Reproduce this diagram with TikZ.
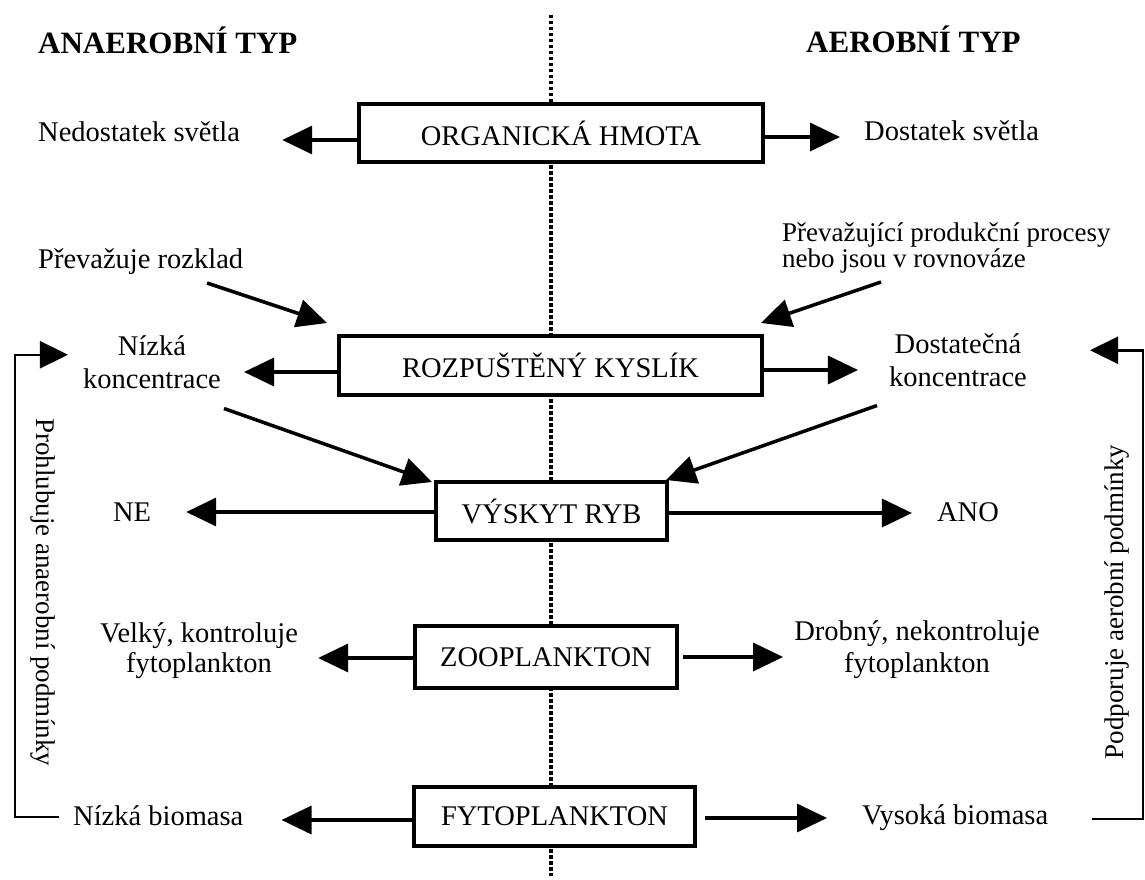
\documentclass[tikz,border=0pt]{standalone}
\usepackage{fontspec}
\setmainfont{Liberation Serif}
\usetikzlibrary{arrows.meta}
\begin{document}
\begin{tikzpicture}[x=1pt,y=-1pt]
\tikzset{
 box/.style={draw, line width=4pt, fill=white, inner sep=0pt, font=\fontsize{28.5}{31}\selectfont},
 tx/.style={inner sep=0pt, font=\fontsize{28.5}{31}\selectfont},
 hd/.style={inner sep=0pt, font=\bfseries\fontsize{31}{34}\selectfont},
 arr/.style={line width=3.5pt, -{Triangle[length=30pt,width=28pt]}},
 fb/.style={line width=2.5pt, -{Triangle[length=28pt,width=27pt]}},
 dotl/.style={line width=3.2pt, dash pattern=on 3.5pt off 2.5pt},
}
\useasboundingbox (0,0) rectangle (1145,880);
\fill[white] (0,0) rectangle (1145,880);

% dotted divider
\coordinate (dtop) at (551,15);
\coordinate (dbot) at (551,876);
\draw[dotl] (dtop) -- (dbot);

% headings
\node[hd, anchor=base west] (anTyp) at (38,54) {ANAEROBNÍ TYP};
\node[hd, anchor=base west] (aeTyp) at (806,53) {AEROBNÍ TYP};

% boxes
\node[box, minimum width=404pt, minimum height=58pt] (org) at (561,133) {ORGANICKÁ HMOTA};
\node[box, minimum width=423pt, minimum height=59pt] (rozp) at (550.5,365.5) {ROZPUŠTĚNÝ KYSLÍK};
\node[box, minimum width=231pt, minimum height=58pt] (vyskyt) at (551.5,511) {VÝSKYT RYB};
\node[box, minimum width=262pt, minimum height=62pt] (zoo) at (546,657) {ZOOPLANKTON};
\node[box, minimum width=281pt, minimum height=59pt] (fyto) at (554.5,816) {FYTOPLANKTON};

% text nodes
\node[tx, anchor=base west] (ned) at (38,142) {Nedostatek světla};
\node[tx, anchor=base west] (dos) at (864,140) {Dostatek světla};
\node[tx, anchor=base west] (rozklad) at (38,268) {Převažuje rozklad};
\node[tx, anchor=north west, align=left, font=\fontsize{27}{23}\selectfont] (prev) at (782,223) {Převažující produkční procesy\\nebo jsou v rovnováze};
\node[tx, anchor=north, align=center, font=\fontsize{28.5}{33}\selectfont] (nk) at (152,335) {Nízká\\koncentrace};
\node[tx, anchor=north, align=center, font=\fontsize{28.5}{33}\selectfont] (dk) at (958,333) {Dostatečná\\koncentrace};
\node[tx, anchor=base] (ne) at (132,521) {NE};
\node[tx, anchor=base] (ano) at (968,521) {ANO};
\node[tx, anchor=north, align=center, font=\fontsize{28.5}{30}\selectfont] (velky) at (199,622) {Velký, kontroluje\\fytoplankton};
\node[tx, anchor=north, align=center, font=\fontsize{28.5}{32}\selectfont] (drobny) at (917,620) {Drobný, nekontroluje\\fytoplankton};
\node[tx, anchor=base west] (nb) at (73,825) {Nízká biomasa};
\node[tx, anchor=base west] (vb) at (862,824) {Vysoká biomasa};
\node[tx, rotate=-90, font=\fontsize{27}{30}\selectfont] (prohl) at (43,592) {Prohlubuje anaerobní podmínky};
\node[tx, rotate=90, font=\fontsize{27}{30}\selectfont] (podp) at (1117,602) {Podporuje aerobní podmínky};

% horizontal arrows
\draw[arr, shorten >=42pt] ([yshift=-7pt]org.west) -- ([yshift=-7pt]org.west -| ned.east);
\draw[arr, shorten >=24pt] ([yshift=-4pt]org.east) -- ([yshift=-4pt]org.east -| dos.west);
\draw[arr, shorten >=23pt] ([yshift=-6.5pt]rozp.west) -- ([yshift=-6.5pt]rozp.west -| nk.east);
\draw[arr, shorten >=31pt] ([yshift=-4.5pt]rozp.east) -- ([yshift=-4.5pt]rozp.east -| dk.west);
\draw[arr, shorten >=35pt] ([yshift=-1pt]vyskyt.west) -- ([yshift=-1pt]vyskyt.west -| ne.east);
\draw[arr, shorten >=25pt] ([yshift=-2pt]vyskyt.east) -- ([yshift=-2pt]vyskyt.east -| ano.west);
\draw[arr, shorten >=20pt] ([yshift=-1pt]zoo.west) -- ([yshift=-1pt]zoo.west -| velky.east);
\draw[arr, shorten <=4pt, shorten >=11pt] (zoo.east) -- (zoo.east -| drobny.west);
\draw[arr, shorten >=38pt] ([yshift=-4pt]fyto.west) -- ([yshift=-4pt]fyto.west -| nb.east);
\draw[arr, shorten <=8pt, shorten >=35pt] ([yshift=-2pt]fyto.east) -- ([yshift=-2pt]fyto.east -| vb.west);

% diagonal arrows
\draw[arr] ([shift={(169,15)}]rozklad.base west) -- ([shift={(-10,-11)}]rozp.north west);
\draw[arr] ([shift={(99,59)}]prev.north west) -- ([shift={(-3,-11)}]rozp.north east);
\draw[arr] ([shift={(72,20)}]nk.south) -- ([shift={(-2,2)}]vyskyt.north west);
\draw[arr] ([shift={(-81,19)}]dk.south) -- ([shift={(-3,0)}]vyskyt.north east);

% feedback loops
\coordinate (lcol) at (15,600);
\coordinate (rcol) at (1143,600);
\draw[fb, shorten >=15pt] ([xshift=-14pt,yshift=-2pt]nb.west) -| (lcol) |- ([yshift=7pt]nk.west);
\draw[fb, shorten >=63pt] ([xshift=44pt,yshift=-2pt]vb.east) -| (rcol) |- ([yshift=9.5pt]dk.east);
\end{tikzpicture}
\end{document}
